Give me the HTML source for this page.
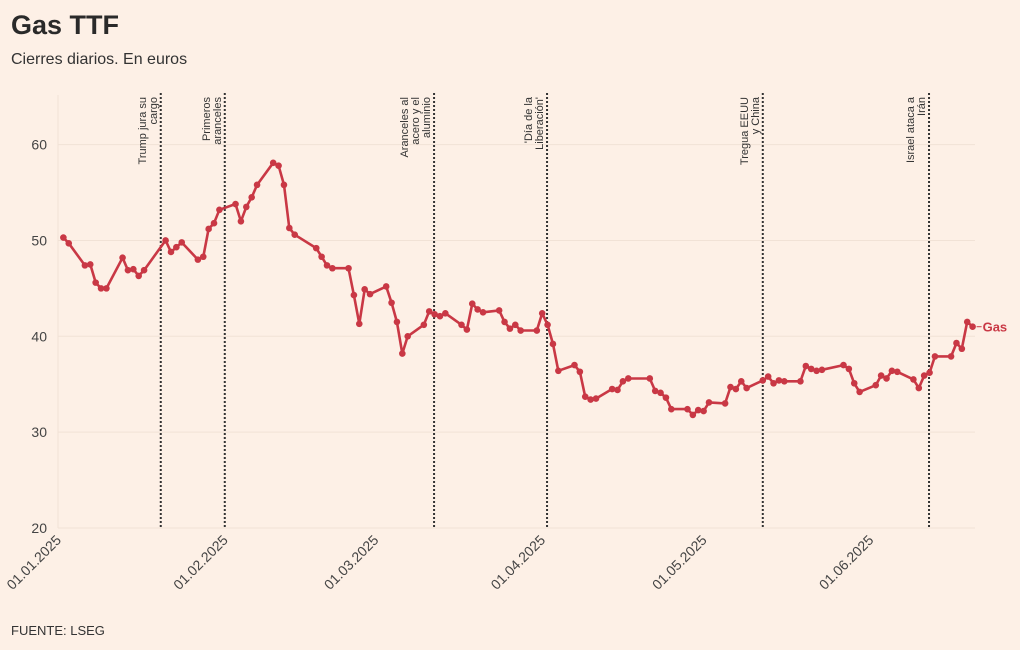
<!DOCTYPE html>
<html><head><meta charset="utf-8"><style>
body{margin:0;background:#fdf0e6;font-family:"Liberation Sans",sans-serif;color:#333}
#wrap{position:relative;width:1020px;height:650px;overflow:hidden}
h1{position:absolute;left:11px;top:10px;margin:0;font-size:27px;font-weight:bold;color:#2a2a2a}
.sub{position:absolute;left:11px;top:51px;font-size:16px;color:#333}
.src{position:absolute;left:11px;top:623px;font-size:13px;color:#333}
svg{position:absolute;left:0;top:0}
</style></head><body>
<div id="wrap">
<h1>Gas TTF</h1>
<div class="sub">Cierres diarios. En euros</div>
<div class="src">FUENTE: LSEG</div>
<svg id="chart" width="1020" height="650"></svg>
</div>
<script>
const days=[1,2,5,6,7,8,9,12,13,14,15,16,20,21,22,23,26,27,28,29,30,33,34,35,36,37,40,41,42,43,44,48,49,50,51,54,55,56,57,58,61,62,63,64,65,68,69,70,71,72,75,76,77,78,79,82,83,84,85,86,89,90,91,92,93,96,97,98,99,100,103,104,105,106,110,111,112,113,114,117,118,119,120,121,124,125,126,127,128,131,132,133,134,135,138,139,140,141,142,146,147,148,149,152,153,154,155,156,159,160,161,162,163,166,167,168,169,170];
const values=[50.3,49.7,47.4,47.5,45.6,45.0,45.0,48.2,46.9,47.0,46.3,46.9,50.0,48.8,49.3,49.8,48.0,48.3,51.2,51.8,53.2,53.8,52.0,53.5,54.5,55.8,58.1,57.8,55.8,51.3,50.6,49.2,48.3,47.4,47.1,47.1,44.3,41.3,44.9,44.4,45.2,43.5,41.5,38.2,40.0,41.2,42.6,42.3,42.1,42.4,41.2,40.7,43.4,42.8,42.5,42.7,41.5,40.8,41.2,40.6,40.6,42.4,41.2,39.2,36.4,37.0,36.3,33.7,33.4,33.5,34.5,34.4,35.3,35.6,35.6,34.3,34.1,33.6,32.4,32.4,31.8,32.3,32.2,33.1,33.0,34.7,34.5,35.3,34.6,35.4,35.8,35.1,35.4,35.3,35.3,36.9,36.6,36.4,36.5,37.0,36.6,35.1,34.2,34.9,35.9,35.6,36.4,36.3,35.5,34.6,35.9,36.2,37.9,37.9,39.3,38.7,41.5,41.0];
const yTicks=[20,30,40,50,60];
const xTickDays=[0,31,59,90,120,151];
const xTickLabels=["01.01.2025","01.02.2025","01.03.2025","01.04.2025","01.05.2025","01.06.2025"];
const eventDays=[19.1,31,69.9,90.9,131,161.9];
const eventLabels=[["Trump jura su","cargo"],["Primeros","aranceles"],["Aranceles al","acero y el","aluminio"],["'Día de la","Liberación'"],["Tregua EEUU","y China"],["Israel ataca a","Irán"]];

const NS="http://www.w3.org/2000/svg";
const svg=document.getElementById('chart');
const X=d=>58+5.38*d;
const Y=v=>528-(v-20)*9.585;
function mk(t,a,p){const e=document.createElementNS(NS,t);for(const k in a)e.setAttribute(k,a[k]);(p||svg).appendChild(e);return e;}

yTicks.forEach(v=>{
  const g=mk('line',{x1:58,x2:975,y1:Y(v),y2:Y(v),stroke:'#f1e2d6','stroke-width':1});
  
  
  const t=mk('text',{x:47,y:Y(v)+5,'text-anchor':'end','font-size':14,fill:'#444'});
  t.textContent=v;
  
  
});
const ax=mk('line',{x1:58,x2:58,y1:95,y2:528,stroke:'#f1e2d6'});



xTickDays.forEach((d,i)=>{
  const t=mk('text',{x:X(d)+4,y:541,'text-anchor':'end','font-size':14,fill:'#444',transform:`rotate(-45 ${X(d)+4} 541)`});
  t.textContent=xTickLabels[i];
  
  
});

eventDays.forEach((d,i)=>{
  const x=X(d);
  const l=mk('line',{x1:x,x2:x,y1:93,y2:528,stroke:'#333','stroke-width':2,'stroke-dasharray':'2,2'});
  
  
  const lines=eventLabels[i];
  lines.forEach((s,j)=>{
    const tx=x-4-(lines.length-1-j)*11;
    const t=mk('text',{x:tx,y:97,'text-anchor':'end','font-size':11,fill:'#333',transform:`rotate(-90 ${tx} 97)`});
    t.textContent=s;
    
    
  });
});

let dstr=days.map((d,i)=>(i?'L':'M')+X(d).toFixed(1)+','+Y(values[i]).toFixed(1)).join(' ');
const path=mk('path',{d:dstr,fill:'none',stroke:'#c93845','stroke-width':2.6,'stroke-linejoin':'round'});


days.forEach((d,i)=>{
  const c=mk('circle',{cx:X(d),cy:Y(values[i]),r:3.3,fill:'#c93845'});
  
  
});
const last=days.length-1;
const ll=mk('line',{x1:X(days[last])+4,x2:X(days[last])+9,y1:Y(values[last]),y2:Y(values[last]),stroke:'#c93845'});


const gl=mk('text',{x:X(days[last])+10,y:Y(values[last])+5,'font-size':13,'font-weight':'bold',fill:'#c93845'});
gl.textContent='Gas';


</script>
</body></html>
